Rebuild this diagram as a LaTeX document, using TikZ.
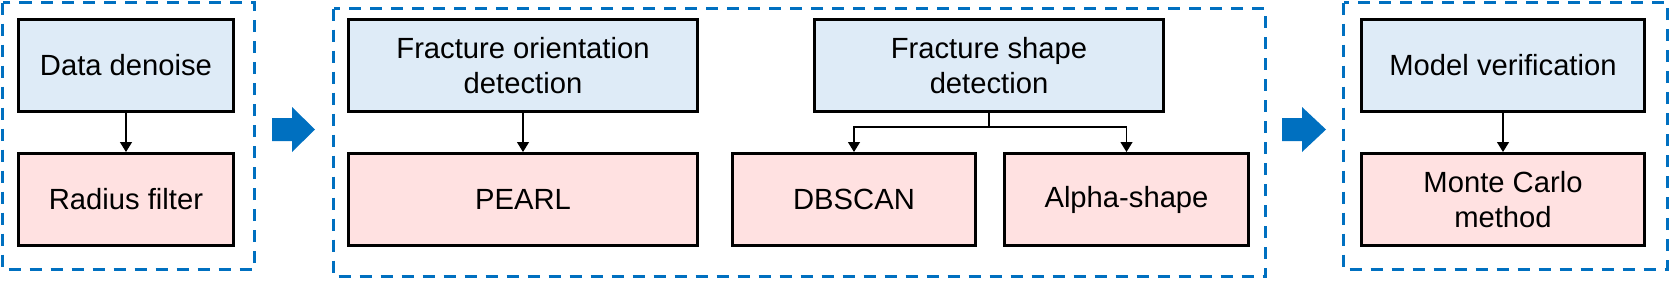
\documentclass[tikz,border=0pt]{standalone}
\usepackage{fontspec}
\setmainfont{Liberation Sans}
\usetikzlibrary{arrows.meta}
\definecolor{boxblue}{HTML}{DEEBF7}
\definecolor{boxpink}{HTML}{FFE1E1}
\definecolor{dashblue}{HTML}{0070C0}
\begin{document}
\begin{tikzpicture}[x=0.5pt,y=-0.5pt,
  box/.style={draw=black,line width=1.5pt,minimum height=46pt,inner sep=0pt,
    align=center,font=\fontsize{14.6}{17.5}\selectfont},
  topbox/.style={box,fill=boxblue},
  botbox/.style={box,fill=boxpink},
  groupline/.style={draw=dashblue,line width=1.5pt,dash pattern=on 6pt off 4.5pt},
  conn/.style={draw=black,line width=0.6pt,-{Triangle[width=6pt,length=5pt]}},
  blockarrow/.style={fill=dashblue,draw=none}]
\useasboundingbox (0,0) rectangle (1670,280);
% group frames
\draw[groupline] (2.5,2.5) rectangle (254,269.5);
\draw[groupline] (333.5,8.5) rectangle (1265.5,276.5);
\draw[groupline] (1343.5,2.5) rectangle (1667,269.5);
% boxes
\node[topbox,minimum width=107.5pt] (dd) at (126,65.5) {Data denoise};
\node[botbox,minimum width=107.5pt] (rf) at (126,199.5) {Radius filter};
\node[topbox,minimum width=174.5pt] (fo) at (523,65.5) {Fracture orientation\\detection};
\node[botbox,minimum width=174.5pt] (pe) at (523,199.5) {PEARL};
\node[topbox,minimum width=174.5pt] (fs) at (989,65.5) {Fracture shape\\detection};
\node[botbox,minimum width=121.5pt] (db) at (854,199.5) {DBSCAN};
\node[botbox,minimum width=122pt] (al) at (1126.5,199.5) {Alpha-shape};
\node[topbox,minimum width=141.5pt] (mv) at (1503,65.5) {Model verification};
\node[botbox,minimum width=141.5pt] (mc) at (1503,199.5) {Monte Carlo\\method};
% connectors
\draw[conn] (dd.south) -- (rf.north);
\draw[conn] (fo.south) -- (pe.north);
\draw[conn] (mv.south) -- (mc.north);
\draw[line width=0.6pt] (fs.south) -- ++(0,14) coordinate (j);
\draw[conn] (j) -| (db.north);
\draw[conn] (j) -| (al.north);
% block arrows
\fill[blockarrow] (272,118) -- (292,118) -- (292,107) -- (315,129.5) -- (292,152) -- (292,141) -- (272,141) -- cycle;
\fill[blockarrow] (1282,118) -- (1302,118) -- (1302,107) -- (1326,129.5) -- (1302,152) -- (1302,141) -- (1282,141) -- cycle;
\end{tikzpicture}
\end{document}
